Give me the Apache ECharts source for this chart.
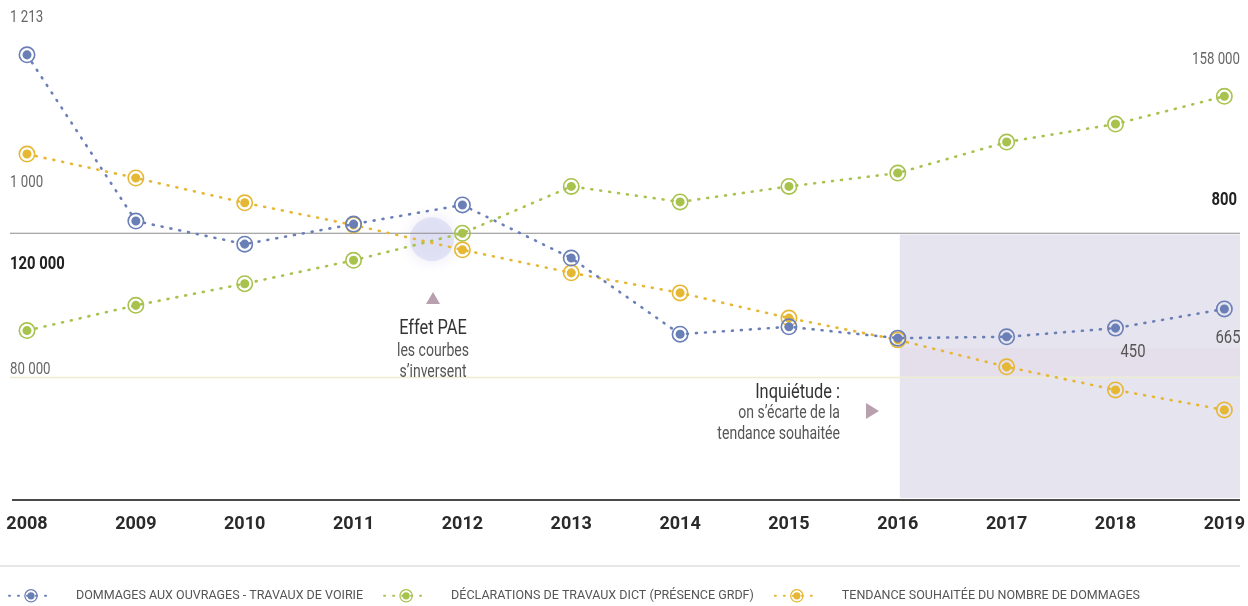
<!DOCTYPE html>
<html><head><meta charset="utf-8">
<script src="https://cdn.jsdelivr.net/npm/echarts@6/dist/echarts.min.js"></script>
<style>html,body{margin:0;padding:0;background:#fff}#c{width:1248px;height:606px}</style>
</head><body><div id="c"></div>
<script>
// ---- data ----
const years = ['2008','2009','2010','2011','2012','2013','2014','2015','2016','2017','2018','2019'];
const dommages = [1213, 831, 778, 824, 868, 746, 571, 588, 562, 565, 585, 629];
const declarations = [93000, 100000, 106000, 112500, 120000, 133000, 128700, 133000, 136700, 145300, 150300, 158000];
const tendance = [985, 930, 873, 822, 765, 712, 666, 608, 558, 496, 443, 397];
const seriesNames = ['DOMMAGES AUX OUVRAGES - TRAVAUX DE VOIRIE', 'DÉCLARATIONS DE TRAVAUX DICT (PRÉSENCE GRDF)', 'TENDANCE SOUHAITÉE DU NOMBRE DE DOMMAGES'];
const refDict = 120000, refDictLow = 80000, refDommages = 800;

const F = "Roboto, 'Liberation Sans Narrow', sans-serif";
const SX = 0.78; // condensed look for annotation text
const RING = 'path://M10,1A9,9 0 0,1 10,19A9,9 0 0,1 10,1Z M10,2.7A7.3,7.3 0 0,0 10,17.3A7.3,7.3 0 0,0 10,2.7Z M10,5.2A4.8,4.8 0 0,1 10,14.8A4.8,4.8 0 0,1 10,5.2Z';
const COL = {blue:'#6a7fb6', green:'#a8c24e', yellow:'#e6b733'};

function lineSeries(name, data, color, yIdx, z){
  return {
    name, type:'line', data, yAxisIndex:yIdx, z,
    symbol: RING, symbolSize: 17, showSymbol:true,
    itemStyle:{color},
    lineStyle:{color, width:2.6, type:[1,8], cap:'round'},
    emphasis:{disabled:true}, animation:false
  };
}

const chart = echarts.init(document.getElementById('c'));
chart.setOption({
  backgroundColor:'#fff',
  animation:false,
  grid:{left:27, right:14, top:17, bottom:106},
  xAxis:{type:'category', data:years, boundaryGap:false,
    axisLine:{show:false}, axisTick:{show:false}, splitLine:{show:false},
    axisLabel:{fontFamily:F, fontSize:18, fontWeight:'bold', color:'#2a2a2a', margin:15}},
  yAxis:[
    {type:'value', min:46000, max:180000, show:false, splitLine:{show:false}},
    {type:'value', min:190, max:1300, show:false, splitLine:{show:false}}
  ],
  legend:{left:3, top:584, itemWidth:44, itemHeight:17, itemGap:20,
    data:seriesNames,
    textStyle:{fontFamily:F, fontSize:12.5, color:'#555', padding:[0,0,0,18]}},
  series:[
    lineSeries(seriesNames[1], declarations, COL.green, 0, 3),
    lineSeries(seriesNames[2], tendance, COL.yellow, 1, 4),
    lineSeries(seriesNames[0], dommages, COL.blue, 1, 5)
  ]
});

function px(cat){ return chart.convertToPixel({xAxisIndex:0}, cat); }
function pyL(v){ return chart.convertToPixel({yAxisIndex:0}, v); }
function pyR(v){ return chart.convertToPixel({yAxisIndex:1}, v); }

const yRef = pyL(refDict), yLow = pyL(refDictLow), yBase = 500;
const x2016 = px('2016') + 2;
const xGlow = px('2011') + 0.72*(px('2012')-px('2011'));
function txt(x,y,text,o){
  return {type:'text', x, y, z:10, scaleX:SX,
    style:Object.assign({text, fontFamily:F, fontSize:17, fill:'#666', textAlign:'left', textVerticalAlign:'middle'}, o||{})};
}
chart.setOption({graphic:[
  {type:'rect', z:-2, shape:{x:x2016, y:pyR(refDommages), width:1240-x2016, height:yBase-2-pyR(refDommages)}, style:{fill:'#e5e4ef'}},
  {type:'rect', z:-1, shape:{x:x2016, y:348, width:1240-x2016, height:28}, style:{fill:'rgba(232,205,222,0.22)'}},
  {type:'circle', z:-1, shape:{cx:xGlow, cy:yRef+6, r:22}, style:{fill:'rgba(218,218,242,0.7)', shadowBlur:14, shadowColor:'rgba(218,218,242,0.9)'}},
  {type:'line', z:-1, shape:{x1:10, y1:yLow, x2:1240, y2:yLow}, style:{stroke:'#f0ead0', lineWidth:1.5}},
  {type:'line', z:1, shape:{x1:10, y1:yRef, x2:1240, y2:yRef}, style:{stroke:'#8c8c8c', lineWidth:1.2}},
  {type:'line', z:1, shape:{x1:12, y1:yBase, x2:1240, y2:yBase}, style:{stroke:'#4a4a4a', lineWidth:2}},
  {type:'line', z:1, shape:{x1:0, y1:566, x2:1240, y2:566}, style:{stroke:'#cfcfcf', lineWidth:1}},
  {type:'polygon', z:10, shape:{points:[[426,304],[440,304],[433,292]]}, style:{fill:'#b9a0ae'}},
  {type:'polygon', z:10, shape:{points:[[866,403],[866,419],[879,411]]}, style:{fill:'#b9a0ae'}},
  txt(433,329,'Effet PAE',{fontSize:21, fill:'#333', textAlign:'center'}),
  txt(433,351,'les courbes',{fontSize:18, fill:'#555', textAlign:'center'}),
  txt(433,372,'s’inversent',{fontSize:18, fill:'#555', textAlign:'center'}),
  txt(840,393,'Inquiétude :',{fontSize:21, fill:'#333', textAlign:'right'}),
  txt(840,413,'on s’écarte de la',{fontSize:18, fill:'#555', textAlign:'right'}),
  txt(840,434,'tendance souhaitée',{fontSize:18, fill:'#555', textAlign:'right'}),
  txt(10,18,'1 213'),
  txt(10,183,'1 000'),
  txt(10,264,'120 000',{fontSize:19, fontWeight:'bold', fill:'#222'}),
  txt(10,370,'80 000'),
  txt(1237,200,'800',{fontSize:19, fontWeight:'bold', fill:'#222', textAlign:'right'}),
  txt(1240,60,'158 000',{textAlign:'right'}),
  txt(1228,338,'665',{fontSize:19, fill:'#555', textAlign:'center'}),
  txt(1133,352,'450',{fontSize:19, fill:'#555', textAlign:'center'})
]});
</script></body></html>
